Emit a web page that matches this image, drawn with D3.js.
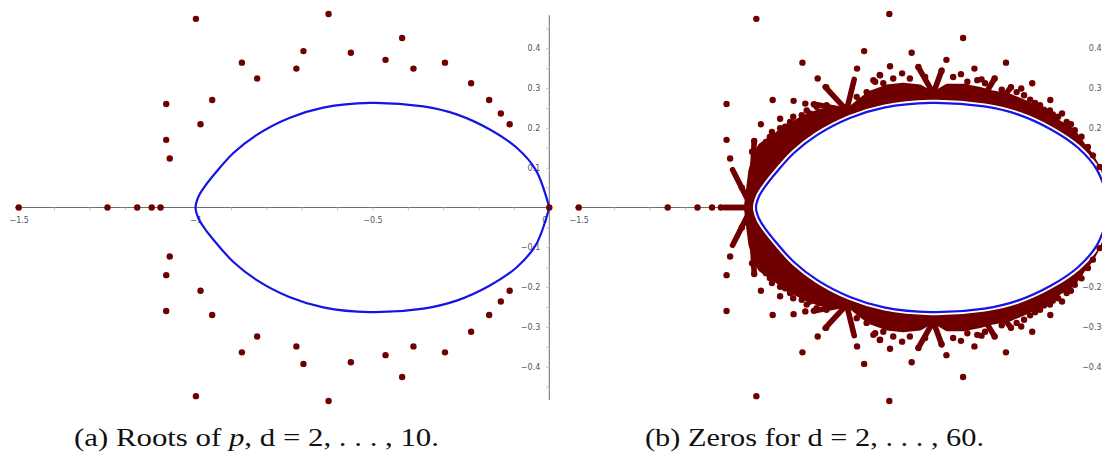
<!DOCTYPE html>
<html>
<head>
<meta charset="utf-8">
<script src="https://cdn.jsdelivr.net/npm/d3@7"></script>
<style>
  body { margin: 0; background: #fff; }
  svg { display: block; }
  .axis text { font-family: 'DejaVu Sans', sans-serif; font-size: 8px; fill: #555; }
  .caption { font-family: 'Liberation Serif', serif; font-size: 26px; fill: #111; }
</style>
</head>
<body>
<svg width="1102" height="454"></svg>
<script>
// roots of p for d = 2..10, upper half plane (the lower half are the conjugates)
const rootsUpper = [
    [-0.999, 0.474], [-0.624, 0.486], [-0.416, 0.426], [-0.695, 0.393],
    [-0.561, 0.389], [-0.869, 0.364], [-0.463, 0.371], [-0.295, 0.364],
    [-0.715, 0.349], [-0.384, 0.349], [-0.826, 0.324], [-0.221, 0.312],
    [-0.953, 0.270], [-0.170, 0.270], [-1.083, 0.260], [-0.137, 0.236],
    [-0.986, 0.209], [-0.112, 0.209], [-1.083, 0.170], [-1.073, 0.123]
];
const rootsReal = [-1.5, -1.249, -1.165, -1.124, -1.099, 0];

// blue limit curve, upper half, from -1 to 0
const curveUpper = [
    [-1.0, 0], [-0.992, 0.027], [-0.974, 0.053], [-0.941, 0.090], [-0.893, 0.137],
    [-0.828, 0.182], [-0.735, 0.225], [-0.639, 0.251], [-0.507, 0.263], [-0.356, 0.254],
    [-0.262, 0.234], [-0.168, 0.196], [-0.092, 0.150], [-0.038, 0.094], [0, 0]
];

// zeros for d = 11..60 that stand apart from the dense band (upper half)
const zerosExtraUpper = [
    [-0.894, 0.268], [-0.861, 0.261], [-0.836, 0.259], [-0.802, 0.302], [-0.651, 0.333],
    [-0.622, 0.355], [-0.588, 0.337], [-0.542, 0.353], [-0.477, 0.343], [-0.422, 0.335],
    [-0.327, 0.324], [-0.281, 0.302], [-0.932, 0.223], [-0.972, 0.165], [-0.955, 0.190],
    [-0.918, 0.203], [-0.895, 0.228], [-0.871, 0.232], [-0.848, 0.236], [-0.669, 0.320],
    [-0.650, 0.332], [-0.664, 0.316], [-0.376, 0.320], [-0.244, 0.282], [-0.213, 0.263],
    [-0.188, 0.246], [-0.163, 0.234], [-0.088, 0.169], [-1.005, 0.167], [-1.011, 0.140],
    [-0.252, 0.299], [-0.364, 0.322],
    [-0.641, 0.312], [-0.613, 0.324], [-0.566, 0.324], [-0.523, 0.328], [-0.444, 0.328],
    [-0.404, 0.316], [-0.354, 0.312], [-0.307, 0.296], [-0.265, 0.290], [-0.227, 0.271],
    [-0.199, 0.257], [-0.171, 0.244], [-0.148, 0.228], [-0.124, 0.215], [-0.101, 0.194],
    [-0.082, 0.178], [-0.064, 0.152], [-0.050, 0.131], [-0.031, 0.102],
    [-0.961, 0.177], [-0.932, 0.199], [-0.904, 0.215], [-0.857, 0.244], [-0.829, 0.253],
    [-0.801, 0.257], [-0.716, 0.278], [-0.688, 0.290], [-1.040, 0.050]
];

// outer edge of the dense band of zeros (upper half)
const bandOuterUpper = [
    [-1.03, 0], [-1.022, 0.06], [-1.017, 0.094], [-1.003, 0.136], [-0.989, 0.157],
    [-0.970, 0.169], [-0.942, 0.186], [-0.913, 0.207], [-0.885, 0.219], [-0.857, 0.232],
    [-0.820, 0.244], [-0.782, 0.249], [-0.744, 0.244], [-0.716, 0.265], [-0.678, 0.290],
    [-0.631, 0.305], [-0.585, 0.310], [-0.537, 0.305], [-0.500, 0.287], [-0.462, 0.307],
    [-0.415, 0.307], [-0.368, 0.299], [-0.331, 0.290], [-0.284, 0.282], [-0.237, 0.265],
    [-0.190, 0.244], [-0.143, 0.215], [-0.105, 0.195], [-0.077, 0.160], [-0.053, 0.133],
    [-0.039, 0.110], [-0.024, 0.090], [-0.010, 0.050], [0.010, 0]
];

// rows of zeros running into the band (upper half)
const spokesUpper = [
    [[-1.066, 0.095], [-1.015, 0.005]],
    [[-1.09, 0], [-1.0, 0]],
    [[-1.005, 0.167], [-1.015, 0.0]],
    [[-0.805, 0.303], [-0.744, 0.244]],
    [[-0.838, 0.260], [-0.744, 0.244]],
    [[-0.723, 0.322], [-0.744, 0.246]],
    [[-0.542, 0.352], [-0.500, 0.287]],
    [[-0.476, 0.345], [-0.500, 0.287]],
    [[-0.327, 0.324], [-0.350, 0.290]],
    [[-0.281, 0.302], [-0.300, 0.280]]
];

const xTickValues = d3.range(-15, 1).map(i => i / 10);
const yTickValues = d3.range(-9, 10).filter(i => i !== 0).map(i => i / 20);
const captionA = ['(a) Roots of ', 'p', ', d = 2, . . . , 10.'];
const captionB = ['(b) Zeros for d = 2, . . . , 60.'];

const dotR = 3.2;
const dotColor = '#700000';
const curveColor = '#1414e6';
const width = +d3.select('svg').attr('width');

const svg = d3.select('svg');

const y = d3.scaleLinear().domain([-0.4, 0.4]).range([366.7, 48.3]);
const xLeft = d3.scaleLinear().domain([-1.5, 0]).range([18.7, 549.3]);
const xRight = d3.scaleLinear().domain([-1.5, 0]).range([578.7, 1110.6]);

const mirror = pts => pts.map(([a, b]) => [a, -b]);
const fmt = d3.format('~g');

function drawAxes(g, x) {
    g.append('line')
        .attr('x1', x(-1.51)).attr('x2', x(0))
        .attr('y1', y(0)).attr('y2', y(0))
        .attr('stroke', '#6e6e6e');
    g.append('line')
        .attr('x1', x(0)).attr('x2', x(0))
        .attr('y1', y(0.483)).attr('y2', y(-0.484))
        .attr('stroke', '#6e6e6e');

    const xAxis = g.append('g')
        .attr('class', 'axis')
        .attr('transform', `translate(0, ${y(0)})`)
        .call(d3.axisBottom(x)
            .tickValues(xTickValues)
            .tickSize(3)
            .tickPadding(7)
            .tickFormat(d => Math.round(d * 10) % 5 === 0 ? fmt(d) : ''));
    xAxis.select('.domain').remove();
    xAxis.selectAll('line').attr('stroke', '#c4c4c4');
    xAxis.selectAll('text').filter(d => d === 0).attr('dx', -5);
    // labels that fall past the picture edge are not shown
    xAxis.selectAll('text').filter(d => x(d) > width - 8).remove();

    const yAxis = g.append('g')
        .attr('class', 'axis')
        .attr('transform', `translate(${x(0)}, 0)`)
        .call(d3.axisLeft(y)
            .tickValues(yTickValues)
            .tickSize(3)
            .tickPadding(6)
            .tickFormat(d => Math.round(d * 20) % 2 === 0 ? fmt(d) : ''));
    yAxis.select('.domain').remove();
    yAxis.selectAll('line').attr('stroke', '#c4c4c4');
}

function lensPath(x) {
    const loop = curveUpper.slice().reverse().concat(mirror(curveUpper).slice(1));
    return d3.line()
        .x(d => x(d[0]))
        .y(d => y(d[1]))
        .curve(d3.curveCatmullRom)(loop);
}

function drawDots(g, x, pts) {
    g.append('g')
        .selectAll('circle')
        .data(pts)
        .join('circle')
        .attr('cx', d => x(d[0]))
        .attr('cy', d => y(d[1]))
        .attr('r', dotR)
        .attr('fill', dotColor);
}

const rootsAll = rootsUpper.concat(mirror(rootsUpper), rootsReal.map(r => [r, 0]));

// ---- panel (a)
const left = svg.append('g');
drawAxes(left, xLeft);
left.append('path')
    .attr('d', lensPath(xLeft))
    .attr('fill', 'none')
    .attr('stroke', curveColor)
    .attr('stroke-width', 2.2);
drawDots(left, xLeft, rootsAll);

// ---- panel (b)
const right = svg.append('g');
drawAxes(right, xRight);

const bandLoop = bandOuterUpper.concat(mirror(bandOuterUpper).reverse());
right.append('path')
    .attr('d', d3.line()
        .x(d => xRight(d[0]))
        .y(d => y(d[1]))
        .curve(d3.curveLinearClosed)(bandLoop))
    .attr('fill', dotColor)
    .attr('stroke', dotColor)
    .attr('stroke-width', 3)
    .attr('stroke-linejoin', 'round');

right.append('g')
    .selectAll('line')
    .data(spokesUpper.concat(spokesUpper.map(mirror)))
    .join('line')
    .attr('x1', d => xRight(d[0][0]))
    .attr('y1', d => y(d[0][1]))
    .attr('x2', d => xRight(d[1][0]))
    .attr('y2', d => y(d[1][1]))
    .attr('stroke', dotColor)
    .attr('stroke-width', 5.6)
    .attr('stroke-linecap', 'round');

right.append('path')
    .attr('d', lensPath(xRight) + 'Z')
    .attr('fill', '#fff')
    .attr('stroke', '#fff')
    .attr('stroke-width', 6);
right.append('path')
    .attr('d', lensPath(xRight))
    .attr('fill', 'none')
    .attr('stroke', curveColor)
    .attr('stroke-width', 2.2);
drawDots(right, xRight, rootsAll.concat(zerosExtraUpper, mirror(zerosExtraUpper)));

// ---- captions
const capA = svg.append('text')
    .attr('class', 'caption')
    .attr('x', 74)
    .attr('y', 446)
    .attr('textLength', 365)
    .attr('lengthAdjust', 'spacingAndGlyphs');
capA.append('tspan').text(captionA[0]);
capA.append('tspan').attr('font-style', 'italic').text(captionA[1]);
capA.append('tspan').text(captionA[2]);

svg.append('text')
    .attr('class', 'caption')
    .attr('x', 645)
    .attr('y', 446)
    .attr('textLength', 339)
    .attr('lengthAdjust', 'spacingAndGlyphs')
    .text(captionB[0]);
</script>
</body>
</html>
